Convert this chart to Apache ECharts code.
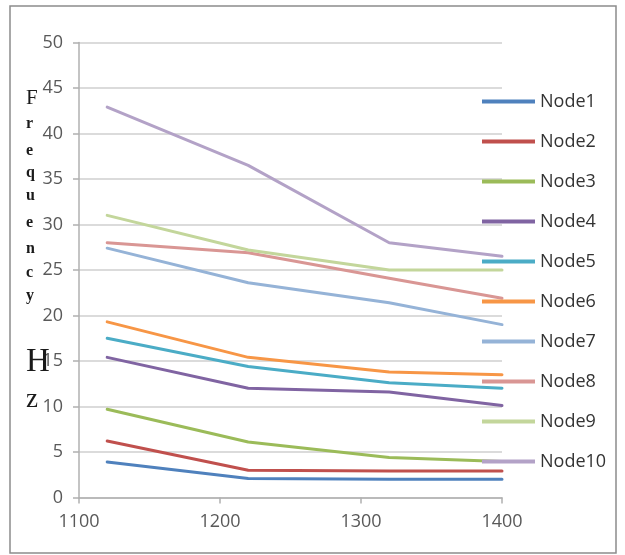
<!DOCTYPE html>
<html>
<head>
<meta charset="utf-8">
<script src="https://cdn.jsdelivr.net/npm/echarts@6/dist/echarts.min.js"></script>
<style>
html,body{margin:0;padding:0;background:#fff;}
#chart{width:625px;height:555px;}
</style>
</head>
<body>
<div id="chart"></div>
<script>
const xValues = [1120, 1220, 1320, 1400];
const seriesNames = ['Node1','Node2','Node3','Node4','Node5','Node6','Node7','Node8','Node9','Node10'];
const node1 = [3.9, 2.1, 2.0, 2.0];
const node2 = [6.2, 3.0, 2.9, 2.9];
const node3 = [9.7, 6.1, 4.4, 3.95];
const node4 = [15.4, 12.0, 11.6, 10.1];
const node5 = [17.5, 14.4, 12.6, 12.0];
const node6 = [19.3, 15.4, 13.8, 13.5];
const node7 = [27.4, 23.6, 21.4, 19.0];
const node8 = [28.0, 26.9, 24.1, 21.9];
const node9 = [31.0, 27.2, 25.0, 25.0];
const node10 = [42.9, 36.5, 28.0, 26.5];
const yTicks = [0, 5, 10, 15, 20, 25, 30, 35, 40, 45, 50];
const xTicks = [1100, 1200, 1300, 1400];
const axisTitle = 'Frequency Hz';

const allValues = [node1,node2,node3,node4,node5,node6,node7,node8,node9,node10];
const colors = ['#4F81BD','#C0504D','#9BBB59','#8064A2','#4BACC6','#F79646','#95B3D7','#D99694','#C3D69B','#B3A2C7'];

const chart = echarts.init(document.getElementById('chart'), null, {renderer:'canvas'});

const series = seriesNames.map((name, i) => ({
  name: name,
  type: 'line',
  data: xValues.map((x, j) => [x, allValues[i][j]]),
  showSymbol: false,
  symbol: 'none',
  lineStyle: {width: 3, color: colors[i], cap: 'round', join: 'round'},
  itemStyle: {color: colors[i]},
  emphasis: {disabled: true},
  animation: false
}));

// y-axis title letters, stacked vertically
const letters = axisTitle.replace(' ', '').split('');
const letterLayout = [
  {fs: 21, y: 98, w: 'normal'}, {fs: 16, y: 124, w: 'bold'}, {fs: 16, y: 151, w: 'bold'}, {fs: 16, y: 173, w: 'bold'},
  {fs: 16, y: 196, w: 'bold'}, {fs: 16, y: 223, w: 'bold'}, {fs: 16, y: 249, w: 'bold'}, {fs: 16, y: 273, w: 'bold'},
  {fs: 16, y: 296, w: 'bold'}, {fs: 33, y: 362, w: 'normal'}, {fs: 27, y: 400, w: 'normal'}
];
const titleGraphics = letters.map((ch, i) => ({
  type: 'text',
  left: 26,
  top: letterLayout[i].y - letterLayout[i].fs / 2,
  z: 100,
  style: {
    text: ch,
    fill: '#1a1a1a',
    fontSize: letterLayout[i].fs,
    fontFamily: 'Liberation Serif',
    fontWeight: letterLayout[i].w,
    textVerticalAlign: 'top'
  }
}));

const option = {
  backgroundColor: '#ffffff',
  animation: false,
  color: colors,
  grid: {left: 79, right: 123, top: 42.5, bottom: 57.5, containLabel: false},
  xAxis: {
    type: 'value',
    min: xTicks[0],
    max: xTicks[xTicks.length - 1],
    interval: 100,
    axisLine: {show: true, onZero: false, lineStyle: {color: '#b0b0b0', width: 1.5}},
    axisTick: {show: true, length: 6, lineStyle: {color: '#b0b0b0', width: 1.5}},
    axisLabel: {color: '#595959', fontSize: 18, fontFamily: '"Open Sans"', margin: 15, formatter: v => String(v)},
    splitLine: {show: false}
  },
  yAxis: {
    type: 'value',
    min: yTicks[0],
    max: yTicks[yTicks.length - 1],
    interval: 5,
    axisLine: {show: true, lineStyle: {color: '#b0b0b0', width: 1.5}},
    axisTick: {show: true, length: 6, lineStyle: {color: '#b0b0b0', width: 1.5}},
    axisLabel: {color: '#595959', fontSize: 18, fontFamily: '"Open Sans"', margin: 16, formatter: v => String(v)},
    splitLine: {show: true, lineStyle: {color: '#cfcfcf', width: 1.5}}
  },
  legend: {
    orient: 'vertical',
    left: 482,
    top: 91.5,
    padding: 0,
    data: seriesNames,
    icon: 'rect',
    itemWidth: 53,
    itemHeight: 4,
    itemGap: 20,
    textStyle: {color: '#333333', fontSize: 18, fontFamily: '"Open Sans"', lineHeight: 20, padding: [0,0,0,0]},
    selectedMode: false
  },
  graphic: [
    {
      type: 'rect',
      shape: {x: 10, y: 6, width: 606, height: 547},
      style: {fill: 'none', stroke: '#8c8c8c', lineWidth: 1.5},
      z: -1, silent: true
    }
  ].concat(titleGraphics),
  series: series
};
chart.setOption(option);
</script>
</body>
</html>
